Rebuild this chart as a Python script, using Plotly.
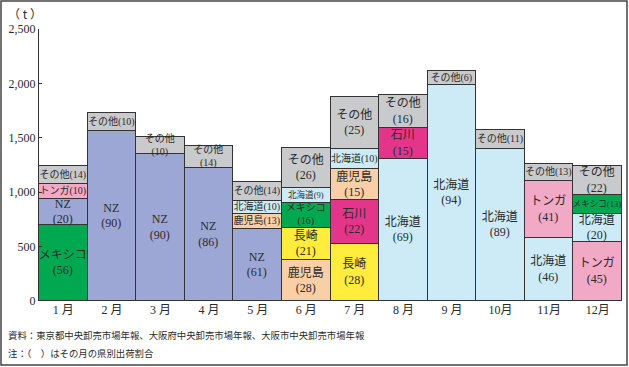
import plotly.graph_objects as go

# ---------------- data ----------------
months = ["1 月", "2 月", "3 月", "4 月", "5 月", "6 月", "7 月", "8 月", "9 月", "10月", "11月", "12月"]

# shipments by origin (t), None = not shown
mexico_t    = [697, None, None, None, None, 230, None, None, None, None, None, 175]
nz_t        = [244, 1561, 1350, 1219, 662, None, None, None, None, None, None, None]
tonga_t     = [132, None, None, None, None, None, None, None, None, None, 524, 546]
hokkaido_t  = [None, None, None, None, 119, 138, 184, 1302, 1987, 1394, 577, 254]
kagoshima_t = [None, None, None, None, 141, 374, 285, None, None, None, None, None]
nagasaki_t  = [None, None, None, None, None, 294, 521, None, None, None, None, None]
ishikawa_t  = [None, None, None, None, None, None, 404, 285, None, None, None, None]
other_t     = [172, 166, 156, 205, 175, 366, 478, 304, 126, 177, 162, 270]

# share of the month (%)
mexico_pct    = [56, None, None, None, None, 16, None, None, None, None, None, 13]
nz_pct        = [20, 90, 90, 86, 61, None, None, None, None, None, None, None]
tonga_pct     = [10, None, None, None, None, None, None, None, None, None, 41, 45]
hokkaido_pct  = [None, None, None, None, 10, 9, 10, 69, 94, 89, 46, 20]
kagoshima_pct = [None, None, None, None, 13, 28, 15, None, None, None, None, None]
nagasaki_pct  = [None, None, None, None, None, 21, 28, None, None, None, None, None]
ishikawa_pct  = [None, None, None, None, None, None, 22, 15, None, None, None, None]
other_pct     = [14, 10, 10, 14, 14, 26, 25, 16, 6, 11, 13, 22]

# stacking order per month (bottom -> top)
stack_order = [
    ["メキシコ", "NZ", "トンガ", "その他"],
    ["NZ", "その他"],
    ["NZ", "その他"],
    ["NZ", "その他"],
    ["NZ", "鹿児島", "北海道", "その他"],
    ["鹿児島", "長崎", "メキシコ", "北海道", "その他"],
    ["長崎", "石川", "鹿児島", "北海道", "その他"],
    ["北海道", "石川", "その他"],
    ["北海道", "その他"],
    ["北海道", "その他"],
    ["北海道", "トンガ", "その他"],
    ["トンガ", "北海道", "メキシコ", "その他"],
]

# ---------------- styling ----------------
series = {
    "メキシコ": (mexico_t, mexico_pct, "#00A94F"),
    "NZ": (nz_t, nz_pct, "#9DA7D5"),
    "トンガ": (tonga_t, tonga_pct, "#F2A9C5"),
    "北海道": (hokkaido_t, hokkaido_pct, "#CDEBF7"),
    "鹿児島": (kagoshima_t, kagoshima_pct, "#F8CFA6"),
    "長崎": (nagasaki_t, nagasaki_pct, "#FFEC3C"),
    "石川": (ishikawa_t, ishikawa_pct, "#E5358B"),
    "その他": (other_t, other_pct, "#C9CACC"),
}

one_line = {(0, "その他"), (0, "トンガ"), (1, "その他"), (4, "その他"), (4, "北海道"),
            (4, "鹿児島"), (5, "北海道"), (6, "北海道"), (8, "その他"), (9, "その他"),
            (10, "その他"), (11, "メキシコ")}
tight = {(11, "メキシコ"), (5, "北海道")}
small_two = {(2, "その他"), (3, "その他"), (5, "メキシコ")}

FONT = "Liberation Serif, Noto Sans CJK JP, serif"
TXT = "#2b2b2b"

fig = go.Figure()
n_layers = max(len(s) for s in stack_order)
for k in range(n_layers):
    ys, cols, texts, sizes = [], [], [], []
    for m, order in enumerate(stack_order):
        if k < len(order):
            name = order[k]
            vals, pcts, col = series[name]
            ys.append(vals[m])
            cols.append(col)
            if (m, name) in one_line:
                texts.append(f"{name}({pcts[m]})")
                sizes.append(8.6 if (m, name) in tight else 10)
            elif (m, name) in small_two:
                texts.append(f"{name}<br>({pcts[m]})")
                sizes.append(10)
            else:
                texts.append(f"{name}<br>({pcts[m]})")
                sizes.append(12)
        else:
            ys.append(None)
            cols.append("white")
            texts.append("")
            sizes.append(10)
    fig.add_trace(go.Bar(
        x=months, y=ys, text=texts,
        marker=dict(color=cols, line=dict(color="#333333", width=1.3)),
        textposition="inside", insidetextanchor="middle", textangle=0,
        constraintext="none",
        textfont=dict(family=FONT, size=sizes, color=TXT),
        hoverinfo="skip", showlegend=False,
    ))

W, H = 629, 367
L, R, T, B = 39, 7, 29, 66
pw, ph = W - L - R, H - T - B

fig.update_layout(
    width=W, height=H, barmode="stack", bargap=0,
    margin=dict(l=L, r=R, t=T, b=B),
    paper_bgcolor="white", plot_bgcolor="white",
    font=dict(family=FONT, color=TXT, size=12),
)
fig.update_yaxes(
    range=[0, 2500], tickvals=[0, 500, 1000, 1500, 2000, 2500], tickformat=",",
    ticks="inside", ticklen=3, tickcolor="#333333",
    showline=True, linecolor="#333333", linewidth=1.2,
    showgrid=False, zeroline=False, tickfont=dict(size=12, color=TXT),
)
fig.update_xaxes(showgrid=False, ticks="", showline=False, tickfont=dict(size=12, color=TXT))

fig.add_annotation(text="（ t ）", xref="paper", yref="paper",
                   x=(25 - L) / pw, y=(H - B - 14) / ph, showarrow=False,
                   xanchor="center", yanchor="middle",
                   font=dict(size=12, color=TXT, family="Noto Sans CJK JP"))
fig.add_annotation(text="資料：東京都中央卸売市場年報、大阪府中央卸売市場年報、大阪市中央卸売市場年報",
                   xref="paper", yref="paper", x=(6 - L) / pw, y=(H - B - 335) / ph,
                   showarrow=False, xanchor="left", yanchor="middle",
                   font=dict(size=9.4, color=TXT, family="Noto Sans CJK JP"))
fig.add_annotation(text="注：（　）はその月の県別出荷割合",
                   xref="paper", yref="paper", x=(6 - L) / pw, y=(H - B - 353) / ph,
                   showarrow=False, xanchor="left", yanchor="middle",
                   font=dict(size=9.4, color=TXT, family="Noto Sans CJK JP"))

fig.add_shape(type="rect", xref="paper", yref="paper",
              x0=(1 - L) / pw, x1=(W - 2 - L) / pw,
              y0=(H - B - (H - 2)) / ph, y1=(H - B - 1) / ph,
              line=dict(color="#444444", width=1.5), fillcolor="rgba(0,0,0,0)")

fig.write_html("out.html", config={"displayModeBar": False},
               post_script="document.body.style.margin='0';document.body.style.overflow='hidden';")
